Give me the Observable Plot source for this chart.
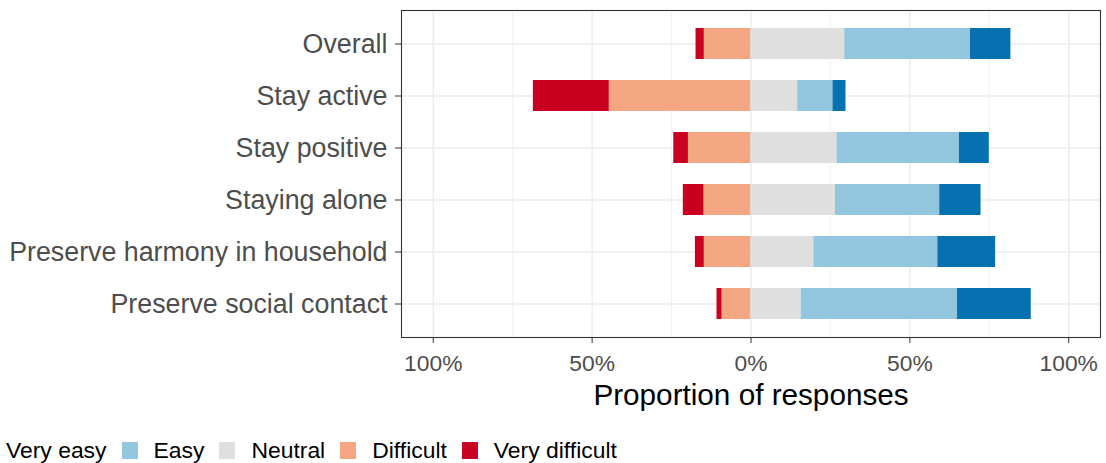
<!DOCTYPE html>
<html>
<head>
<meta charset="utf-8">
<script src="https://cdn.jsdelivr.net/npm/d3@7"></script>
<script src="https://cdn.jsdelivr.net/npm/@observablehq/plot@0.6"></script>
<style>
  body { margin: 0; background: #fff; font-family: "Liberation Sans", Arial, sans-serif; }
  #wrap { position: relative; width: 1106px; height: 463px; overflow: hidden; background: #fff; }
  #chart svg { display: block; }
  #chart g[aria-label^="y-axis"] text { font-size: 26.8px !important; fill: #4d4d4d; }
  #chart g[aria-label^="x-axis"] text { font-size: 22.8px !important; fill: #4d4d4d; }
  #legend { position: absolute; left: -41px; top: 436px; height: 28px; display: flex; align-items: center;
            font-size: 22.9px; color: #000; white-space: nowrap; }
  #legend .sw { width: 16px; height: 17px; display: inline-block; margin: 0 16px 0 15px; flex: none; }
</style>
</head>
<body>
<div id="wrap">
  <div id="chart"></div>
  <div id="legend"></div>
</div>
<script>
const categories = ["Overall", "Stay active", "Stay positive", "Staying alone",
                    "Preserve harmony in household", "Preserve social contact"];
const levels = ["Very difficult", "Difficult", "Neutral", "Easy", "Very easy"];
const legendOrder = ["Very easy", "Easy", "Neutral", "Difficult", "Very difficult"];
const levelColors = ["#ca0020", "#f4a582", "#dfdfdf", "#92c5de", "#0571b0"];

// percent of responses per category
const veryDifficult = [2.6, 23.9, 4.6, 6.5, 2.8, 1.6];
const difficult     = [14.7, 44.6, 19.7, 14.8, 14.7, 9.1];
const neutral       = [29.5, 14.7, 27.1, 26.6, 19.8, 15.8];
const easy          = [39.6, 11.1, 38.5, 32.8, 39.0, 49.2];
const veryEasy      = [12.7, 4.1, 9.4, 13.0, 18.2, 23.2];

const xMajor = [-100, -50, 0, 50, 100];
const xMinor = [-75, -25, 25, 75];
const xTitle = "Proportion of responses";

const rows = [];
categories.forEach((c, i) => {
  rows.push({cat: c, level: "Difficult", value: -difficult[i]});
  rows.push({cat: c, level: "Very difficult", value: -veryDifficult[i]});
  rows.push({cat: c, level: "Neutral", value: neutral[i]});
  rows.push({cat: c, level: "Easy", value: easy[i]});
  rows.push({cat: c, level: "Very easy", value: veryEasy[i]});
});

const chart = Plot.plot({
  width: 1106,
  height: 420,
  marginLeft: 401,
  marginRight: 6,
  marginTop: 10,
  marginBottom: 83,
  style: {fontFamily: "Liberation Sans, Arial, sans-serif", background: "white", color: "#333"},
  x: {domain: [-110, 110], ticks: xMajor, tickFormat: d => Math.abs(d) + "%", tickSize: 6, tickPadding: 11, label: null},
  y: {domain: categories, paddingInner: 0.4, paddingOuter: 0.3, tickSize: 6, tickPadding: 8, label: null},
  color: {domain: levels, range: levelColors},
  marks: [
    Plot.ruleX(xMinor, {stroke: "#ebebeb", strokeWidth: 0.7}),
    Plot.ruleX(xMajor, {stroke: "#ebebeb", strokeWidth: 1.4}),
    Plot.ruleY(categories, {stroke: "#ebebeb", strokeWidth: 1.4}),
    Plot.barX(rows, Plot.stackX({
      x: "value", y: "cat", z: "level", fill: "level",
      order: ["Difficult", "Very difficult", "Neutral", "Easy", "Very easy"]
    })),
    Plot.frame({stroke: "#333", strokeWidth: 1.1}),
    Plot.text([xTitle], {text: d => d, frameAnchor: "bottom", lineAnchor: "middle", dy: 57.5, fontSize: 29.7, fill: "#000"})
  ]
});
document.getElementById("chart").appendChild(chart);

const colorOf = Object.fromEntries(levels.map((l, i) => [l, levelColors[i]]));
const legend = document.getElementById("legend");
legendOrder.forEach(l => {
  const sw = document.createElement("span");
  sw.className = "sw";
  sw.style.background = colorOf[l];
  const tx = document.createElement("span");
  tx.textContent = l;
  legend.appendChild(sw);
  legend.appendChild(tx);
});
</script>
</body>
</html>
